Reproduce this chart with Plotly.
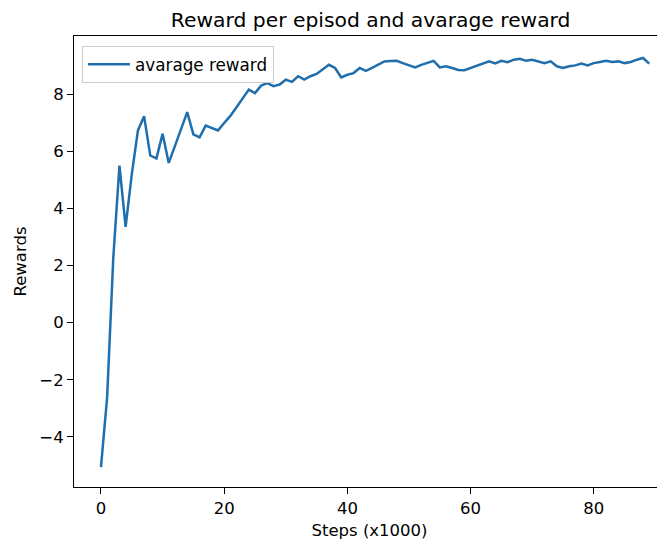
import plotly.graph_objects as go

steps = list(range(90))
avg_reward = [
    -5.06, -2.61, 2.28, 5.51, 3.36, 5.20, 6.74, 7.24, 5.86, 5.76,
    6.62, 5.60, 6.19, 6.77, 7.38, 6.60, 6.50, 6.91, 6.83, 6.74,
    7.00, 7.25, 7.55, 7.88, 8.17, 8.05, 8.31, 8.40, 8.29, 8.35,
    8.52, 8.44, 8.64, 8.52, 8.64, 8.72, 8.87, 9.04, 8.93, 8.60,
    8.69, 8.75, 8.93, 8.83, 8.93, 9.04, 9.16, 9.17, 9.18, 9.10,
    9.02, 8.95, 9.04, 9.10, 9.18, 8.95, 8.99, 8.93, 8.86, 8.85,
    8.93, 9.02, 9.10, 9.16, 9.09, 9.18, 9.13, 9.22, 9.25, 9.18,
    9.22, 9.16, 9.10, 9.16, 8.99, 8.93, 8.99, 9.02, 9.08, 9.02,
    9.10, 9.14, 9.18, 9.14, 9.16, 9.10, 9.14, 9.22, 9.28, 9.08,
]
x_ticks = [0, 20, 40, 60, 80]
y_ticks = [-4, -2, 0, 2, 4, 6, 8]

font = "DejaVu Sans"
fig = go.Figure()
fig.add_trace(go.Scatter(
    x=steps, y=avg_reward, mode="lines", name="avarage reward",
    line=dict(color="#1f6fae", width=2.5),
))
fig.update_layout(
    width=657, height=540,
    margin=dict(l=66, r=0, t=28, b=61),
    paper_bgcolor="white", plot_bgcolor="white",
    font=dict(family=font, size=16.5, color="black"),
    title=dict(text="Reward per episod and avarage reward", x=0.552, xanchor="center",
               y=0.978, yanchor="middle", font=dict(size=20.3, family=font, color="black")),
    showlegend=True,
    legend=dict(x=0.0135, y=0.978, xanchor="left", yanchor="top",
                bgcolor="rgba(255,255,255,0.8)", bordercolor="#cccccc", borderwidth=1,
                font=dict(size=16.8, family=font), tracegroupgap=0, itemwidth=42),
)
fig.update_xaxes(
    range=[-4.38, 91.56], tickvals=x_ticks, ticktext=[str(v) for v in x_ticks],
    showgrid=False, zeroline=False, showline=True, linecolor="black", linewidth=1,
    mirror=True, ticks="outside", ticklen=6, tickcolor="black",
    tickfont=dict(size=16.5, family=font),
    title=dict(text="Steps (x1000)", font=dict(size=16.5, family=font), standoff=7),
)
fig.update_yaxes(
    range=[-5.76, 10.05], tickvals=y_ticks, ticktext=[str(v).replace("-", "\u2212") for v in y_ticks],
    showgrid=False, zeroline=False, showline=True, linecolor="black", linewidth=1,
    ticks="outside", ticklen=6, tickcolor="black",
    tickfont=dict(size=16.5, family=font),
    title=dict(text="Rewards", font=dict(size=16.5, family=font), standoff=8),
)
fig.write_html("out.html")
